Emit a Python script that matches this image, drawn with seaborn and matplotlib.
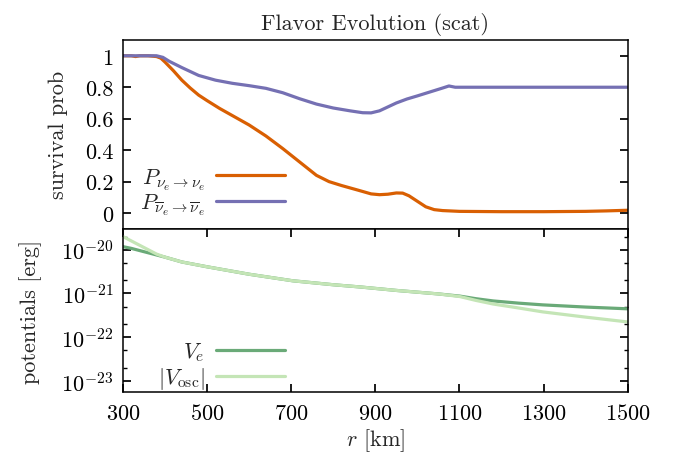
import numpy as np
import pandas as pd
import matplotlib
matplotlib.use("Agg")
import matplotlib.pyplot as plt
import matplotlib.ticker as mticker
import seaborn as sns

# survival probabilities (top panel)
r_nue = [300, 320, 330, 340, 360, 380, 390, 400, 420, 440, 460, 480, 500, 530,
         560, 600, 640, 680, 720, 760, 790, 820, 860, 890, 910, 930, 950, 965,
         980, 1000, 1020, 1040, 1060, 1100, 1200, 1300, 1400, 1450, 1500]
p_nue = [1.0, 1.0, 0.995, 1.0, 1.0, 0.995, 0.985, 0.96, 0.905, 0.845, 0.795,
         0.75, 0.715, 0.665, 0.62, 0.56, 0.49, 0.41, 0.325, 0.24, 0.2, 0.175,
         0.145, 0.122, 0.117, 0.12, 0.128, 0.127, 0.11, 0.075, 0.04, 0.022,
         0.016, 0.011, 0.009, 0.009, 0.011, 0.014, 0.018]

r_nuebar = [300, 380, 395, 410, 440, 480, 520, 560, 600, 640, 680, 720, 760,
            800, 840, 870, 890, 910, 930, 950, 975, 1000, 1030, 1060, 1075,
            1090, 1110, 1200, 1300, 1400, 1500]
p_nuebar = [1.0, 1.0, 0.99, 0.965, 0.925, 0.875, 0.845, 0.825, 0.81, 0.793,
            0.765, 0.727, 0.693, 0.668, 0.65, 0.638, 0.637, 0.65, 0.675, 0.70,
            0.725, 0.745, 0.77, 0.795, 0.808, 0.80, 0.80, 0.80, 0.80, 0.80,
            0.80]

# potentials (bottom panel), log10 of erg
r_pot = [300, 320, 340, 360, 380, 400, 440, 500, 600, 704, 800, 863, 950,
         1000, 1050, 1101, 1140, 1180, 1240, 1298, 1400, 1500]
log_ve = [-19.93, -19.97, -20.02, -20.07, -20.12, -20.17, -20.28, -20.39,
          -20.56, -20.71, -20.80, -20.85, -20.93, -20.97, -21.01, -21.06,
          -21.12, -21.17, -21.22, -21.26, -21.31, -21.35]
log_vosc = [-19.70, -19.80, -19.90, -20.00, -20.10, -20.17, -20.28, -20.39,
            -20.56, -20.71, -20.80, -20.85, -20.93, -20.97, -21.01, -21.07,
            -21.16, -21.24, -21.33, -21.42, -21.54, -21.65]

xticks = [300, 500, 700, 900, 1100, 1300, 1500]
yticks_prob = [0, 0.2, 0.4, 0.6, 0.8, 1.0]

sns.set_theme(style="ticks")
plt.rcParams.update({
    "font.family": "serif",
    "font.serif": ["cmr10"],
    "mathtext.fontset": "cm",
    "axes.unicode_minus": False,
    "axes.formatter.use_mathtext": True,
    "font.size": 16,
    "axes.labelsize": 16,
    "xtick.labelsize": 16,
    "ytick.labelsize": 16,
    "axes.linewidth": 1.1,
    "axes.edgecolor": "black",
    "xtick.direction": "in",
    "ytick.direction": "in",
    "xtick.major.size": 6,
    "ytick.major.size": 6,
    "ytick.minor.size": 3,
    "xtick.major.pad": 8,
    "ytick.major.pad": 7,
    "xtick.color": "black",
    "ytick.color": "black",
})

df_nue = pd.DataFrame({"r": r_nue, "p": p_nue})
df_nuebar = pd.DataFrame({"r": r_nuebar, "p": p_nuebar})
df_pot = pd.DataFrame({"r": r_pot, "ve": np.power(10.0, log_ve),
                       "vosc": np.power(10.0, log_vosc)})

fig = plt.figure(figsize=(6.83, 4.56), dpi=100)
ax1 = fig.add_axes([0.180, 0.496, 0.739, 0.414])
ax2 = fig.add_axes([0.180, 0.138, 0.739, 0.358])

sns.lineplot(data=df_nue, x="r", y="p", ax=ax1, color="#d95f02", lw=2.3,
             label=r"$P_{\nu_e\to\nu_e}$")
sns.lineplot(data=df_nuebar, x="r", y="p", ax=ax1, color="#7570b3", lw=2.3,
             label=r"$P_{\overline{\nu}_e\to\overline{\nu}_e}$")

sns.lineplot(data=df_pot, x="r", y="ve", ax=ax2, color="#6aaa78", lw=2.3,
             label=r"$V_e$")
sns.lineplot(data=df_pot, x="r", y="vosc", ax=ax2, color="#c4e5b6", lw=2.3,
             label=r"$|V_{\rm osc}|$")

# top panel
ax1.set_xlim(300, 1500)
ax1.set_ylim(-0.1, 1.1)
ax1.set_yticks(yticks_prob)
ax1.yaxis.set_major_formatter(mticker.FuncFormatter(lambda v, p: f"{v:g}"))
ax1.tick_params(axis="x", length=0, labelbottom=False)
ax1.tick_params(axis="y", left=True, right=True)
ax1.set_xlabel("")
ax1.set_ylabel("survival prob", labelpad=12)
ax1.set_title("Flavor Evolution (scat)", fontsize=16, pad=8)
ax1.legend(loc="lower right", bbox_to_anchor=(0.321, 0.062), frameon=False,
           markerfirst=False, handlelength=3.1, handletextpad=0.5,
           labelspacing=0.0, borderaxespad=0, borderpad=0, fontsize=16)

# bottom panel
ax2.set_yscale("log")
ax2.set_xlim(300, 1500)
ax2.set_ylim(5.6e-24, 3e-20)
ax2.set_xticks(xticks)
ax2.yaxis.set_major_locator(mticker.LogLocator(base=10, numticks=10))
ax2.yaxis.set_minor_locator(mticker.LogLocator(base=10, subs=(2.0, 5.0), numticks=10))
ax2.yaxis.set_minor_formatter(mticker.NullFormatter())
ax2.tick_params(axis="x", top=True, bottom=True)
ax2.tick_params(axis="y", which="both", left=True, right=True)
ax2.set_xlabel(r"$r$ [km]", labelpad=2)
ax2.set_ylabel("potentials [erg]", labelpad=14)
ax2.legend(loc="lower right", bbox_to_anchor=(0.321, 0.004), frameon=False,
           markerfirst=False, handlelength=3.1, handletextpad=0.5,
           labelspacing=0.1, borderaxespad=0, borderpad=0, fontsize=16)

fig.savefig("out.png", dpi=100)
